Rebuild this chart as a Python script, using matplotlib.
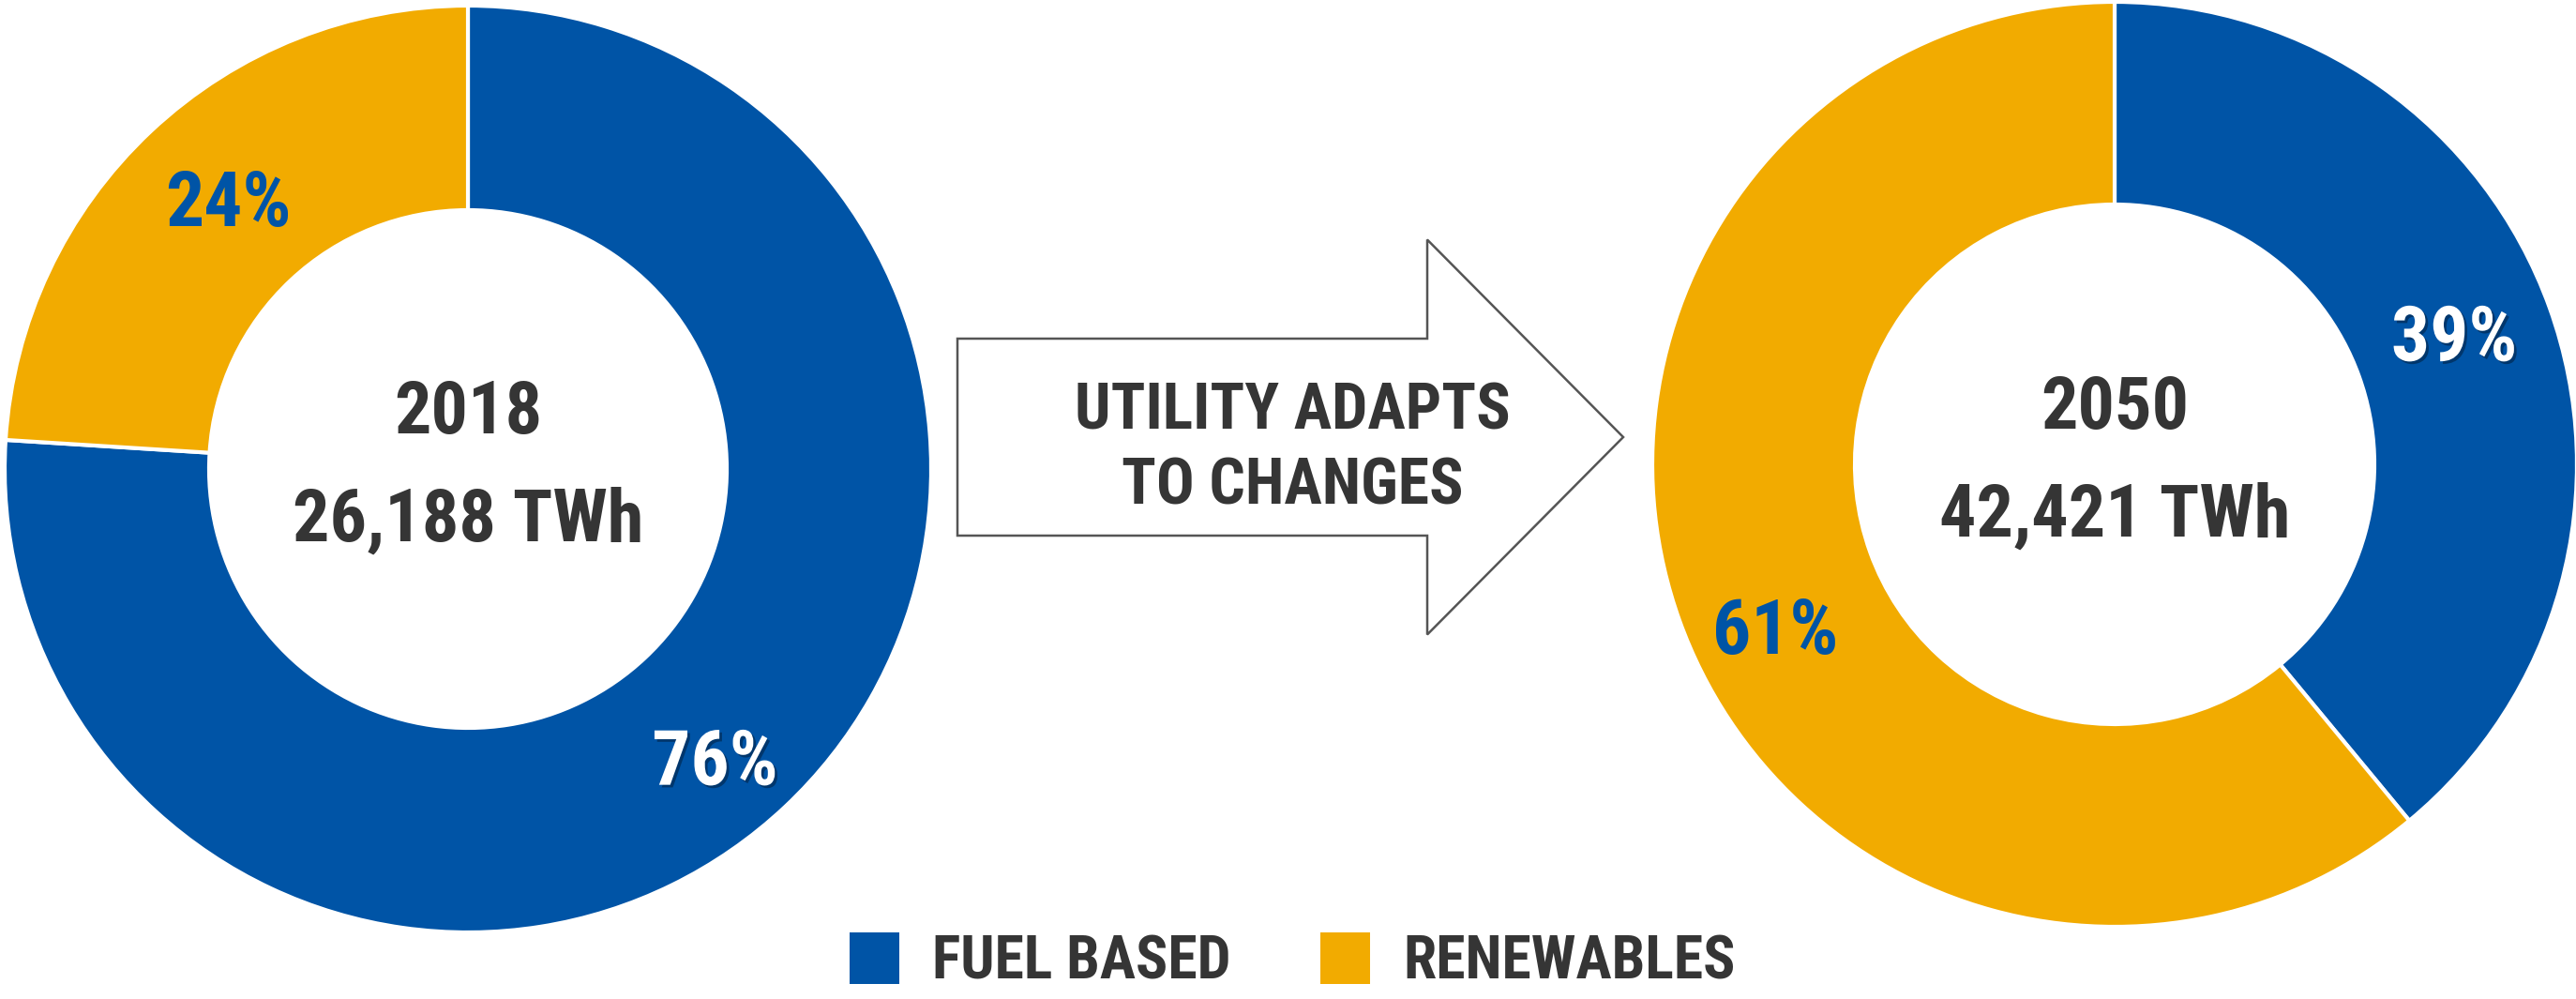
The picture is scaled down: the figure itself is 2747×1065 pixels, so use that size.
import matplotlib
matplotlib.use("Agg")
import matplotlib.pyplot as plt
import matplotlib.patheffects as pe
from matplotlib.patches import FancyArrow, Patch
from matplotlib import font_manager

# data
categories = ['FUEL BASED', 'RENEWABLES']
share_2018 = [76, 24]
share_2050 = [39, 61]
years = ['2018', '2050']
totals = ['26,188 TWh', '42,421 TWh']
arrow_lines = ['UTILITY ADAPTS', 'TO CHANGES']

BLUE = '#0054a6'
GOLD = '#f2ab00'
DARK = '#353535'

# pick the narrowest font that is installed
names = {f.name for f in font_manager.fontManager.ttflist}
FONT = 'DejaVu Sans'
for cand in ['Liberation Sans Narrow', 'Roboto Condensed']:
    if cand in names:
        FONT = cand
        break
plt.rcParams['font.family'] = [FONT, 'DejaVu Sans']
WEIGHT = 'bold'

W, H = 2747, 1065
fig = plt.figure(figsize=(W / 100, H / 100), dpi=100)
ax = fig.add_axes([0, 0, 1, 1])
rend = fig.canvas.get_renderer()


def fit_size(s, target, size0=50):
    # font size at which string s is target pixels wide
    t = fig.text(0, 0, s, fontsize=size0, fontweight=WEIGHT)
    w = t.get_window_extent(renderer=rend).width
    t.remove()
    return size0 * target / w


# the original face is narrower and taller, so go a little wider to gain height
PCT_SIZE = fit_size('24%', 120) * 1.12
CENTER_SIZE = fit_size(totals[0], 335) * 1.12
ARROW_SIZE = fit_size(arrow_lines[0], 415) * 1.12
LEG_SIZE = fit_size(categories[0], 310) * 1.03

shadow = [pe.withSimplePatchShadow(offset=(2, -2), alpha=0.35, shadow_rgbFace='black')]

donuts = [
    (share_2018, (499, H - 500), 494, 276, years[0], totals[0]),
    (share_2050, (2255, H - 495), 493, 277, years[1], totals[1]),
]
# nudges for the percent labels (pixels)
nudge = [[(0, -34), (8, 0)], [(0, 2), (0, -50)]]

for i, (vals, c, r_out, r_in, yr, tot) in enumerate(donuts):
    wedges, _, autos = ax.pie(
        vals, colors=[BLUE, GOLD], startangle=90, counterclock=False,
        center=c, radius=r_out, frame=True,
        autopct=lambda p: f'{p:.0f}%', pctdistance=(r_out + r_in) / 2 / r_out,
        wedgeprops=dict(width=r_out - r_in, edgecolor='white', linewidth=3),
        textprops=dict(fontsize=PCT_SIZE, fontweight=WEIGHT),
    )
    for t, (dx, dy) in zip(autos, nudge[i]):
        x, y = t.get_position()
        t.set_position((x + dx, y + dy))
    autos[0].set_color('white')
    autos[0].set_path_effects(shadow)
    autos[1].set_color(BLUE)
    ax.text(c[0], c[1] + 38, yr, ha='center', va='baseline', fontsize=CENTER_SIZE,
            color=DARK, fontweight=WEIGHT)
    ax.text(c[0], c[1] - 77, tot, ha='center', va='baseline', fontsize=CENTER_SIZE,
            color=DARK, fontweight=WEIGHT)

ax.set_xlim(0, W)
ax.set_ylim(0, H)
ax.set_aspect('equal')
ax.axis('off')

# arrow between the two donuts
arr = FancyArrow(1021, H - 466, 710, 0, width=210, head_width=421, head_length=209,
                 length_includes_head=True, facecolor='white', edgecolor='#555555',
                 linewidth=1.8)
ax.add_patch(arr)
for line, base in zip(arrow_lines, [H - 457, H - 538]):
    ax.text(1378, base, line, ha='center', va='baseline', fontsize=ARROW_SIZE,
            color=DARK, fontweight=WEIGHT)

# legend: squares ~53x60 px, gaps as in the original
em = LEG_SIZE * 100 / 72
handles = [Patch(facecolor=BLUE), Patch(facecolor=GOLD)]
leg = fig.legend(handles, categories, loc='center', bbox_to_anchor=(1378 / W, 40 / H),
                 ncol=2, frameon=False, handlelength=53 / em, handleheight=60 / em,
                 handletextpad=35 / em, columnspacing=96 / em,
                 prop=dict(size=LEG_SIZE, weight=WEIGHT))
for t in leg.get_texts():
    t.set_color(DARK)

fig.savefig('out.png', dpi=100, facecolor='white')
